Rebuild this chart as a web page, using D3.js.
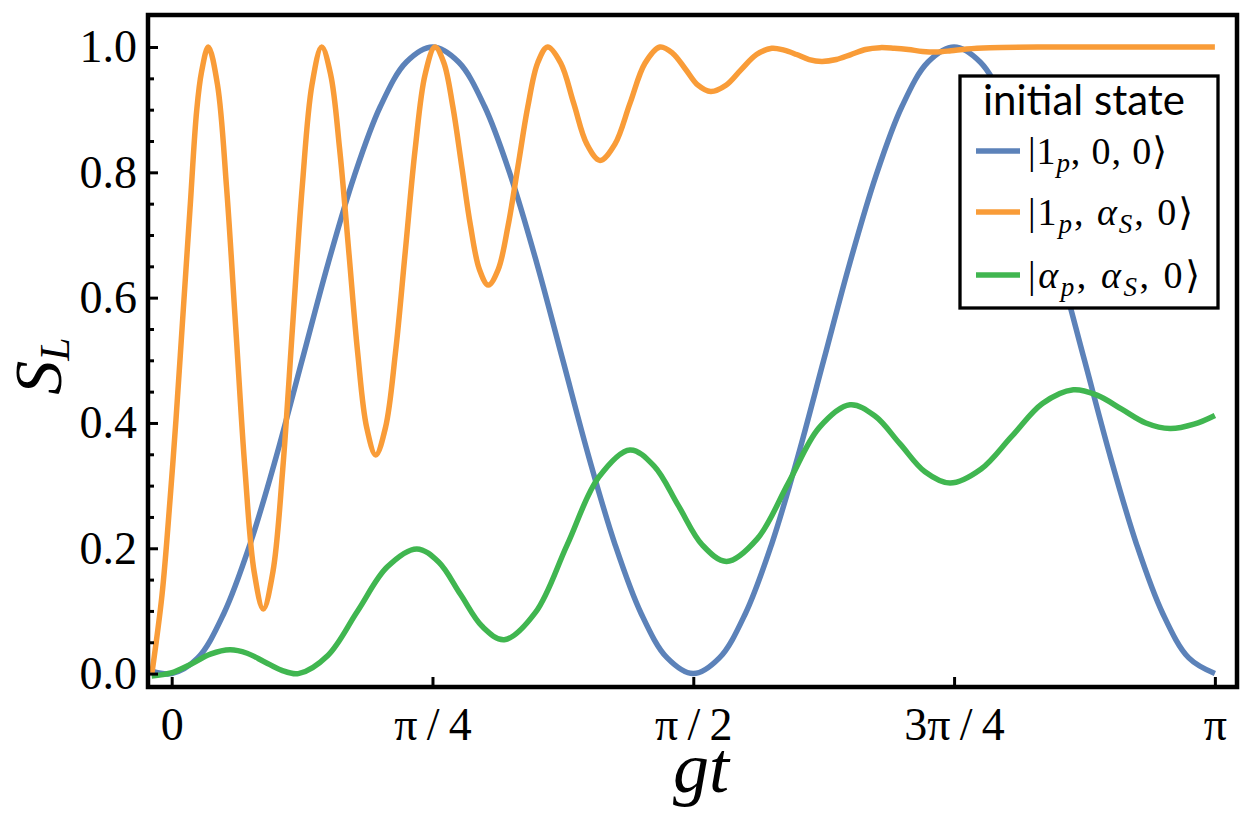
<!DOCTYPE html>
<head>
    <meta charset="utf-8">
    <title>S_L vs gt</title>
    <script type="text/javascript" src="https://d3js.org/d3.v7.min.js"></script>
    <style>
        body { margin: 0; background: #fff; }
        .axis .tick text { font-family: "Liberation Serif", "DejaVu Serif", serif; font-size: 46px; fill: #000; }
        .axis .tick line { stroke: #000; stroke-width: 3; }
        .curve { fill: none; stroke-width: 5.5; stroke-linejoin: round; }
        .math { font-family: "Liberation Serif", "DejaVu Serif", serif; fill: #000; }
    </style>
</head>
<body>
<div id="container"></div>
<script>
    //------------------------------DATA------------------------------//
    // gt is given in units of pi, S_L read off the figure
    const blueGt = [-0.019, 0, 0.025, 0.05, 0.075, 0.1, 0.125, 0.15, 0.175, 0.2, 0.225, 0.25, 0.275, 0.3, 0.325, 0.35,
        0.375, 0.4, 0.425, 0.45, 0.475, 0.5, 0.525, 0.55, 0.575, 0.6, 0.625, 0.65, 0.675, 0.7, 0.725, 0.75, 0.775, 0.8,
        0.825, 0.85, 0.875, 0.9, 0.925, 0.95, 0.975, 1.0];
    const blueSL = [0.004, 0.00, 0.025, 0.096, 0.206, 0.345, 0.50, 0.655, 0.794, 0.905, 0.976, 1.00, 0.976, 0.905, 0.794, 0.655,
        0.50, 0.345, 0.206, 0.096, 0.025, 0.00, 0.025, 0.096, 0.206, 0.345, 0.50, 0.655, 0.794, 0.905, 0.976, 1.00, 0.976, 0.905,
        0.794, 0.655, 0.50, 0.345, 0.206, 0.096, 0.025, 0.00];

    const orangeGt = [-0.0189, -0.0093, -0.0016, 0.0041, 0.0111, 0.0175, 0.0240, 0.0286, 0.0351,
        0.0439, 0.0526, 0.0614, 0.0702, 0.0790, 0.0878, 0.0971, 0.1065, 0.1158, 0.1251, 0.1345, 0.1438,
        0.1524, 0.1610, 0.1697, 0.1783, 0.1869, 0.1956, 0.2050, 0.2145, 0.2240, 0.2334, 0.2429, 0.2524,
        0.2609, 0.2695, 0.2780, 0.2864, 0.2950, 0.3035, 0.3130, 0.3225, 0.3320, 0.3414, 0.3509, 0.3604,
        0.3730, 0.3854, 0.3980, 0.4106, 0.4249, 0.4393, 0.4537, 0.4681, 0.4803, 0.4924, 0.5045, 0.5167,
        0.5313, 0.5459, 0.5606, 0.5752, 0.5871, 0.5991, 0.6111, 0.6231, 0.6371, 0.6511, 0.6650, 0.6790,
        0.6926, 0.7061, 0.7197, 0.7333, 0.7470, 0.7621, 0.7844, 0.8419, 1.000];
    const orangeSL = [0.001, 0.125, 0.277, 0.405, 0.580, 0.740, 0.899, 0.960, 1.000,
        0.940, 0.776, 0.552, 0.327, 0.163, 0.103, 0.163, 0.327, 0.552, 0.776, 0.940, 1.000,
        0.956, 0.837, 0.675, 0.512, 0.393, 0.349, 0.393, 0.512, 0.675, 0.837, 0.956, 1.000,
        0.975, 0.905, 0.810, 0.715, 0.645, 0.620, 0.645, 0.715, 0.810, 0.905, 0.975, 1.000,
        0.974, 0.910, 0.845, 0.819, 0.845, 0.910, 0.974, 1.000, 0.990, 0.965, 0.939, 0.929,
        0.939, 0.964, 0.988, 0.998, 0.995, 0.988, 0.980, 0.977, 0.980, 0.988, 0.996, 0.999,
        0.998, 0.996, 0.993, 0.992, 0.994, 0.997, 0.999, 1.000, 1.000];

    const greenGt = [-0.0192, -0.0007, 0.0183, 0.0371, 0.0559, 0.0723, 0.0887, 0.1050, 0.1214, 0.1497, 0.1781,
        0.2065, 0.2349, 0.2559, 0.2768, 0.2978, 0.3188, 0.3489, 0.3791, 0.4092, 0.4393, 0.4625, 0.4857, 0.5088,
        0.5320, 0.5615, 0.5911, 0.6207, 0.6502, 0.6742, 0.6982, 0.7221, 0.7461, 0.7756, 0.8052, 0.8347, 0.8643,
        0.8875, 0.9107, 0.9338, 0.9570, 0.9800, 1.000];
    const greenSL = [-0.004, 0.001, 0.015, 0.031, 0.038, 0.0325, 0.019, 0.0055, 0.000, 0.029, 0.0995,
        0.170, 0.199, 0.178, 0.1265, 0.075, 0.054, 0.098, 0.2055, 0.313, 0.357, 0.331, 0.268, 0.205,
        0.179, 0.2155, 0.304, 0.3925, 0.429, 0.411, 0.3665, 0.322, 0.304, 0.326, 0.3785, 0.431, 0.453,
        0.444, 0.422, 0.400, 0.391, 0.398, 0.412];

    const seriesColors = ["#5c82b9", "#f99c38", "#40b650"];

    const xTicks = [0, 0.25, 0.5, 0.75, 1];
    const xTickLabels = ["0", "\u03c0\u2009/\u20094", "\u03c0\u2009/\u20092", "3\u03c0\u2009/\u20094", "\u03c0"];
    const yTicks = [0, 0.2, 0.4, 0.6, 0.8, 1.0];
    const yMinorTicks = [0.05, 0.1, 0.15, 0.25, 0.3, 0.35, 0.45, 0.5, 0.55, 0.65, 0.7, 0.75, 0.85, 0.9, 0.95];

    const legendTitle = "initial state";
    // each legend entry: pieces of text, sub = subscript, it = italic
    const legendLabels = [
        [{t: "|1"}, {t: "p", sub: true, it: true}, {t: ", 0, 0\u27e9"}],
        [{t: "|1"}, {t: "p", sub: true, it: true}, {t: ", "}, {t: "\u03b1", it: true}, {t: "S", sub: true, it: true}, {t: ", 0\u27e9"}],
        [{t: "|"}, {t: "\u03b1", it: true}, {t: "p", sub: true, it: true}, {t: ", "}, {t: "\u03b1", it: true}, {t: "S", sub: true, it: true}, {t: ", 0\u27e9"}]
    ];

    const slices = [
        {gt: blueGt, sl: blueSL},
        {gt: orangeGt, sl: orangeSL},
        {gt: greenGt, sl: greenSL}
    ].map(function(s, i) {
        return {
            color: seriesColors[i],
            values: s.gt.map(function(g, j) { return {gt: g, sl: s.sl[j]}; })
        };
    });

    //-----------------------------SVG-------------------------------//
    const width = 1251;
    const height = 835;
    const plot = {left: 148, right: 1237, top: 15, bottom: 687};

    const svg = d3.select("div#container").append("svg")
        .attr("width", width)
        .attr("height", height);

    svg.append("rect").attr("width", width).attr("height", height).attr("fill", "#fff");

    //----------------------------SCALES-----------------------------//
    const xScale = d3.scaleLinear().domain([-0.0227, 1.0212]).range([plot.left, plot.right]);
    const yScale = d3.scaleLinear().domain([-0.0214, 1.0511]).range([plot.bottom, plot.top]);

    //----------------------------LINES------------------------------//
    svg.append("clipPath").attr("id", "clip")
        .append("rect")
        .attr("x", plot.left).attr("y", plot.top)
        .attr("width", plot.right - plot.left).attr("height", plot.bottom - plot.top);

    const line = d3.line()
        .curve(d3.curveCatmullRom.alpha(0.5))
        .x(function(d) { return xScale(d.gt); })
        .y(function(d) { return yScale(d.sl); });

    svg.append("g").attr("clip-path", "url(#clip)")
        .selectAll("path")
        .data(slices)
        .enter()
        .append("path")
        .attr("class", "curve")
        .attr("stroke", function(d) { return d.color; })
        .attr("d", function(d) { return line(d.values); });

    //-----------------------------AXES------------------------------//
    svg.append("g")
        .attr("class", "axis")
        .attr("transform", "translate(0," + plot.bottom + ")")
        .call(d3.axisBottom(xScale)
            .tickValues(xTicks)
            .tickFormat(function(d, i) { return xTickLabels[i]; })
            .tickSizeInner(-10).tickSizeOuter(0).tickPadding(20))
        .call(function(g) { g.select(".domain").remove(); });

    svg.append("g")
        .attr("class", "axis")
        .attr("transform", "translate(" + plot.left + ",0)")
        .call(d3.axisLeft(yScale)
            .tickValues(yTicks)
            .tickFormat(d3.format(".1f"))
            .tickSizeInner(-10).tickSizeOuter(0).tickPadding(11))
        .call(function(g) { g.select(".domain").remove(); });

    svg.append("g")
        .attr("class", "axis")
        .attr("transform", "translate(" + plot.left + ",0)")
        .call(d3.axisLeft(yScale)
            .tickValues(yMinorTicks)
            .tickFormat("")
            .tickSizeInner(-6).tickSizeOuter(0))
        .call(function(g) { g.select(".domain").remove(); });

    // frame
    svg.append("rect")
        .attr("x", plot.left).attr("y", plot.top)
        .attr("width", plot.right - plot.left).attr("height", plot.bottom - plot.top)
        .attr("fill", "none").attr("stroke", "#000").attr("stroke-width", 4.5);

    // axis titles
    svg.append("text")
        .attr("class", "math")
        .attr("x", 701).attr("y", 792)
        .attr("text-anchor", "middle")
        .style("font-size", "72px").style("font-style", "italic")
        .text("gt");

    const ylab = svg.append("text")
        .attr("class", "math")
        .attr("transform", "translate(61,366) rotate(-90)")
        .attr("text-anchor", "middle")
        .style("font-size", "68px").style("font-style", "italic");
    ylab.append("tspan").text("S");
    ylab.append("tspan").attr("dy", 8).style("font-size", "42px").text("L");

    //----------------------------LEGEND-----------------------------//
    const legend = svg.append("g");
    legend.append("rect")
        .attr("x", 960).attr("y", 76).attr("width", 258).attr("height", 232)
        .attr("fill", "#fff").attr("stroke", "#000").attr("stroke-width", 3.3);

    const title = legend.append("text")
        .attr("x", 983).attr("y", 115)
        .style("font-family", "Lato, 'Open Sans', 'Noto Sans', sans-serif")
        .style("font-size", "40px")
        .text(legendTitle);
    const tw = title.node().getComputedTextLength();
    title.style("font-size", (40 * 202 / tw) + "px");

    const rowY = [151, 212, 275];
    const rowWidth = [139, 165, 172];
    legendLabels.forEach(function(parts, i) {
        legend.append("line")
            .attr("x1", 976).attr("x2", 1020)
            .attr("y1", rowY[i]).attr("y2", rowY[i])
            .attr("stroke", seriesColors[i]).attr("stroke-width", 5.5);

        const txt = legend.append("text")
            .attr("class", "math")
            .attr("x", 1028).attr("y", rowY[i] + 13)
            .style("font-size", "38px");
        let shifted = false;
        parts.forEach(function(p) {
            const ts = txt.append("tspan").text(p.t);
            if (p.it) ts.style("font-style", "italic");
            if (p.sub) {
                ts.style("font-size", "27px").attr("dy", 8);
                shifted = true;
            } else if (shifted) {
                ts.attr("dy", -8);
                shifted = false;
            }
        });
        // stretch the spacing to the width seen in the figure
        if (txt.node().getComputedTextLength() < rowWidth[i]) {
            txt.attr("textLength", rowWidth[i]).attr("lengthAdjust", "spacing");
        }
    });
</script>
</body>
